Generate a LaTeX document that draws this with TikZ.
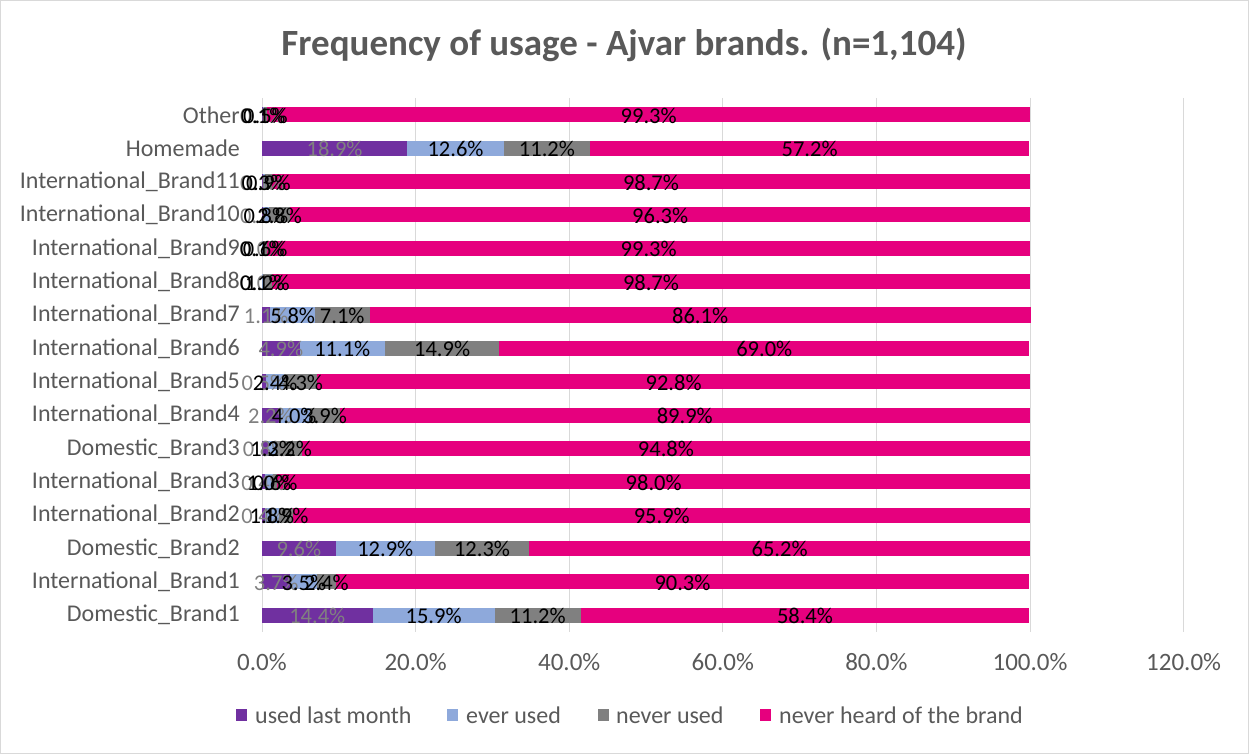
\documentclass[tikz,border=0pt]{standalone}
\usepackage{fontspec}
\setmainfont{Carlito}
\definecolor{cUsed}{HTML}{7030A0}
\definecolor{cEver}{HTML}{8EA9DB}
\definecolor{cNever}{HTML}{808080}
\definecolor{cHeard}{HTML}{E6007E}
\definecolor{cText}{HTML}{595959}
\definecolor{cGrid}{HTML}{D9D9D9}
\definecolor{cLab}{HTML}{808080}
\tikzset{
  cat/.style={anchor=east, text=cText, font=\fontsize{24}{25}\selectfont, inner sep=0pt},
  dlab/.style={text=black, font=\fontsize{22.5}{23}\selectfont, inner sep=0pt},
  dlabg/.style={text=cLab, font=\fontsize{22.5}{23}\selectfont, inner sep=0pt},
  axlab/.style={text=cText, font=\fontsize{25}{26}\selectfont, inner sep=0pt},
  leglab/.style={anchor=west, text=cText, font=\fontsize{24}{25}\selectfont, inner sep=0pt},
  grid/.style={draw=cGrid, line width=1pt},
}
\begin{document}
\begin{tikzpicture}[x=1pt,y=-1pt]
\useasboundingbox (0,0) rectangle (1249,754);
\draw[cGrid, line width=1pt] (0.5,0.5) rectangle (1248.5,753.5);
\node[text=cText, font=\bfseries\fontsize{37}{39}\selectfont] (title) at (624,45) {Frequency of usage - Ajvar brands. (n=1,104)};
% grid lines and axis labels
\foreach \p [count=\k from 0] in {0.0,20.0,40.0,60.0,80.0,100.0,120.0} {
  \draw[grid] (262+\k*153.6,98) -- (262+\k*153.6,632);
  \node[axlab] (ax\k) at (262+\k*153.6,662) {\p\%};
}
\foreach \nm/\a/\b/\c/\d [count=\i from 0] in {
  Other/0.1/0.1/0.5/99.3,
  Homemade/18.9/12.6/11.2/57.2,
  International\_Brand11/0.1/0.3/0.9/98.7,
  International\_Brand10/0.1/0.8/2.8/96.3,
  International\_Brand9/0.0/0.1/0.6/99.3,
  International\_Brand8/0.0/0.1/1.2/98.7,
  International\_Brand7/1.1/5.8/7.1/86.1,
  International\_Brand6/4.9/11.1/14.9/69.0,
  International\_Brand5/0.5/2.4/4.3/92.8,
  International\_Brand4/2.2/4.0/3.9/89.9,
  Domestic\_Brand3/0.8/1.2/3.2/94.8,
  International\_Brand3/0.4/1.0/0.6/98.0,
  International\_Brand2/0.4/1.8/1.9/95.9,
  Domestic\_Brand2/9.6/12.9/12.3/65.2,
  International\_Brand1/3.7/3.5/2.4/90.3,
  Domestic\_Brand1/14.4/15.9/11.2/58.4} {
  \pgfmathsetmacro\yy{115+\i*33.333}
  \pgfmathsetmacro\xa{262}
  \pgfmathsetmacro\xb{\xa+7.68*\a}
  \pgfmathsetmacro\xc{\xb+7.68*\b}
  \pgfmathsetmacro\xd{\xc+7.68*\c}
  \pgfmathsetmacro\xe{\xd+7.68*\d}
  \fill[cUsed] (\xa,\yy-7.5) rectangle (\xb,\yy+7.5);
  \fill[cEver] (\xb,\yy-7.5) rectangle (\xc,\yy+7.5);
  \fill[cNever] (\xc,\yy-7.5) rectangle (\xd,\yy+7.5);
  \fill[cHeard] (\xd,\yy-7.5) rectangle (\xe,\yy+7.5);
  \node[cat] (cat\i) at (240,\yy) {\nm};
  \node[dlabg] (la\i) at ({(\xa+\xb)/2},\yy+1) {\a\%};
  \node[dlab] (lb\i) at ({(\xb+\xc)/2},\yy+1) {\b\%};
  \node[dlab] (lc\i) at ({(\xc+\xd)/2},\yy+1) {\c\%};
  \node[dlab] (ld\i) at ({(\xd+\xe)/2},\yy+1) {\d\%};
}
% legend
\fill[cUsed] (236,709) rectangle (247,721);
\node[leglab] (l1) at (255,715) {used last month};
\fill[cEver] (447,709) rectangle (458,721);
\node[leglab] (l2) at (466,715) {ever used};
\fill[cNever] (598,709) rectangle (609,721);
\node[leglab] (l3) at (616,715) {never used};
\fill[cHeard] (760,709) rectangle (771,721);
\node[leglab] (l4) at (779,715) {never heard of the brand};
\end{tikzpicture}
\end{document}
